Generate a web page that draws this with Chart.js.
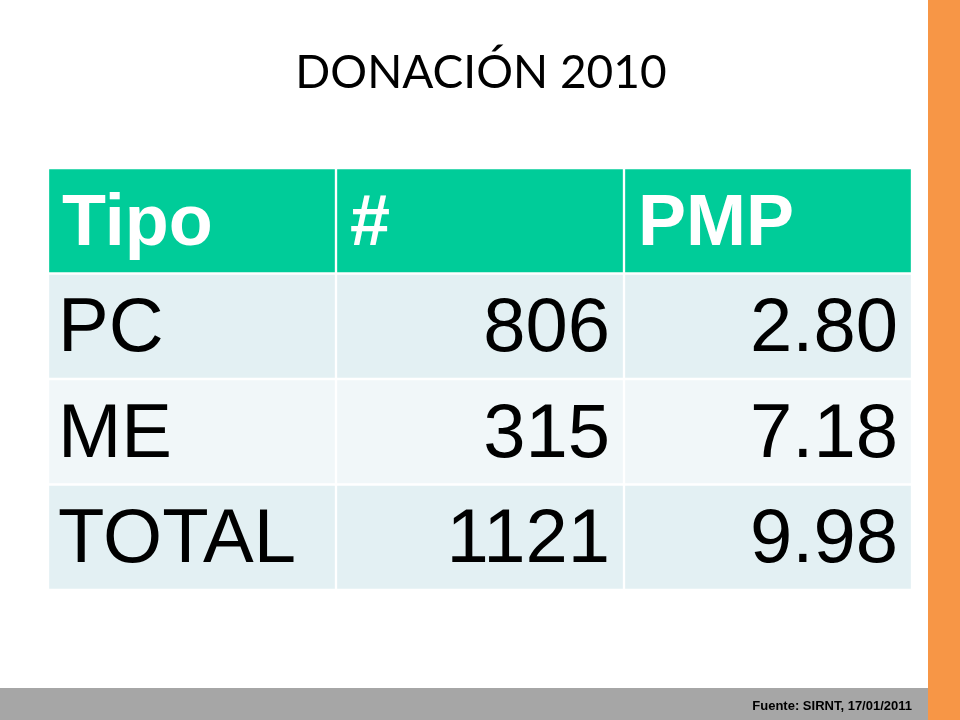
<!DOCTYPE html>
<html><head><meta charset="utf-8">
<script src="https://cdn.jsdelivr.net/npm/chart.js@4.4.0/dist/chart.umd.min.js"></script>
<style>html,body{margin:0;padding:0;background:#fff}canvas{display:block}</style>
</head><body>
<canvas id="c" width="960" height="720"></canvas>
<script>
const titleText = 'DONACIÓN 2010';
const headers = ['Tipo', '#', 'PMP'];
const tipos = ['PC', 'ME', 'TOTAL'];
const counts = [806, 315, 1121];
const pmp = [2.80, 7.18, 9.98];
const source = 'Fuente: SIRNT, 17/01/2011';

const rowLabels = ['header'].concat(tipos);
const rowColors = ['#00CC99', '#E3F0F3', '#F1F7F9', '#E3F0F3'];
const cellText = [headers].concat(tipos.map((t, i) => [t, String(counts[i]), pmp[i].toFixed(2)]));

const datasets = [0, 1, 2].map(col => ({
  data: rowLabels.map(() => [col, col + 1]),
  backgroundColor: rowColors,
  borderColor: '#ffffff',
  borderWidth: 1.5,
  borderSkipped: false,
  grouped: false,
  barPercentage: 1,
  categoryPercentage: 1
}));

const deco = {
  id: 'deco',
  beforeDraw(chart) {
    const ctx = chart.ctx;
    ctx.save();
    ctx.fillStyle = '#F79646';
    ctx.fillRect(928, 0, 32, 720);
    ctx.fillStyle = '#A6A6A6';
    ctx.fillRect(0, 688, 928, 32);
    ctx.fillStyle = '#000';
    ctx.font = '46px Lato';
    ctx.textAlign = 'center';
    ctx.textBaseline = 'alphabetic';
    ctx.fillText(titleText, 481, 88);
    ctx.font = 'bold 13px "Liberation Sans"';
    ctx.textAlign = 'right';
    ctx.fillText(source, 912, 710);
    ctx.restore();
  },
  afterDatasetsDraw(chart) {
    const ctx = chart.ctx, x = chart.scales.x, y = chart.scales.y;
    ctx.save();
    ctx.textBaseline = 'middle';
    cellText.forEach((row, r) => {
      const yc = y.getPixelForValue(r) + 4;
      row.forEach((txt, c) => {
        if (r === 0) { ctx.font = 'bold 72px "Liberation Sans"'; ctx.fillStyle = '#fff'; }
        else { ctx.font = '76px "Liberation Sans"'; ctx.fillStyle = '#000'; }
        if (c === 0 || r === 0) {
          ctx.textAlign = 'left';
          ctx.fillText(txt, x.getPixelForValue(c) + (r === 0 ? 14 : 10), yc);
        } else {
          ctx.textAlign = 'right';
          ctx.fillText(txt, x.getPixelForValue(c + 1) - 14, yc);
        }
      });
    });
    ctx.restore();
  }
};

new Chart(document.getElementById('c'), {
  type: 'bar',
  data: { labels: rowLabels, datasets },
  options: {
    indexAxis: 'y',
    responsive: false,
    animation: false,
    devicePixelRatio: 1,
    layout: { padding: { left: 48, right: 48, top: 168, bottom: 130 } },
    scales: {
      x: { type: 'linear', min: 0, max: 3, display: false },
      y: { display: false }
    },
    plugins: { legend: { display: false }, tooltip: { enabled: false }, title: { display: false } }
  },
  plugins: [deco]
});
</script>
</body></html>
